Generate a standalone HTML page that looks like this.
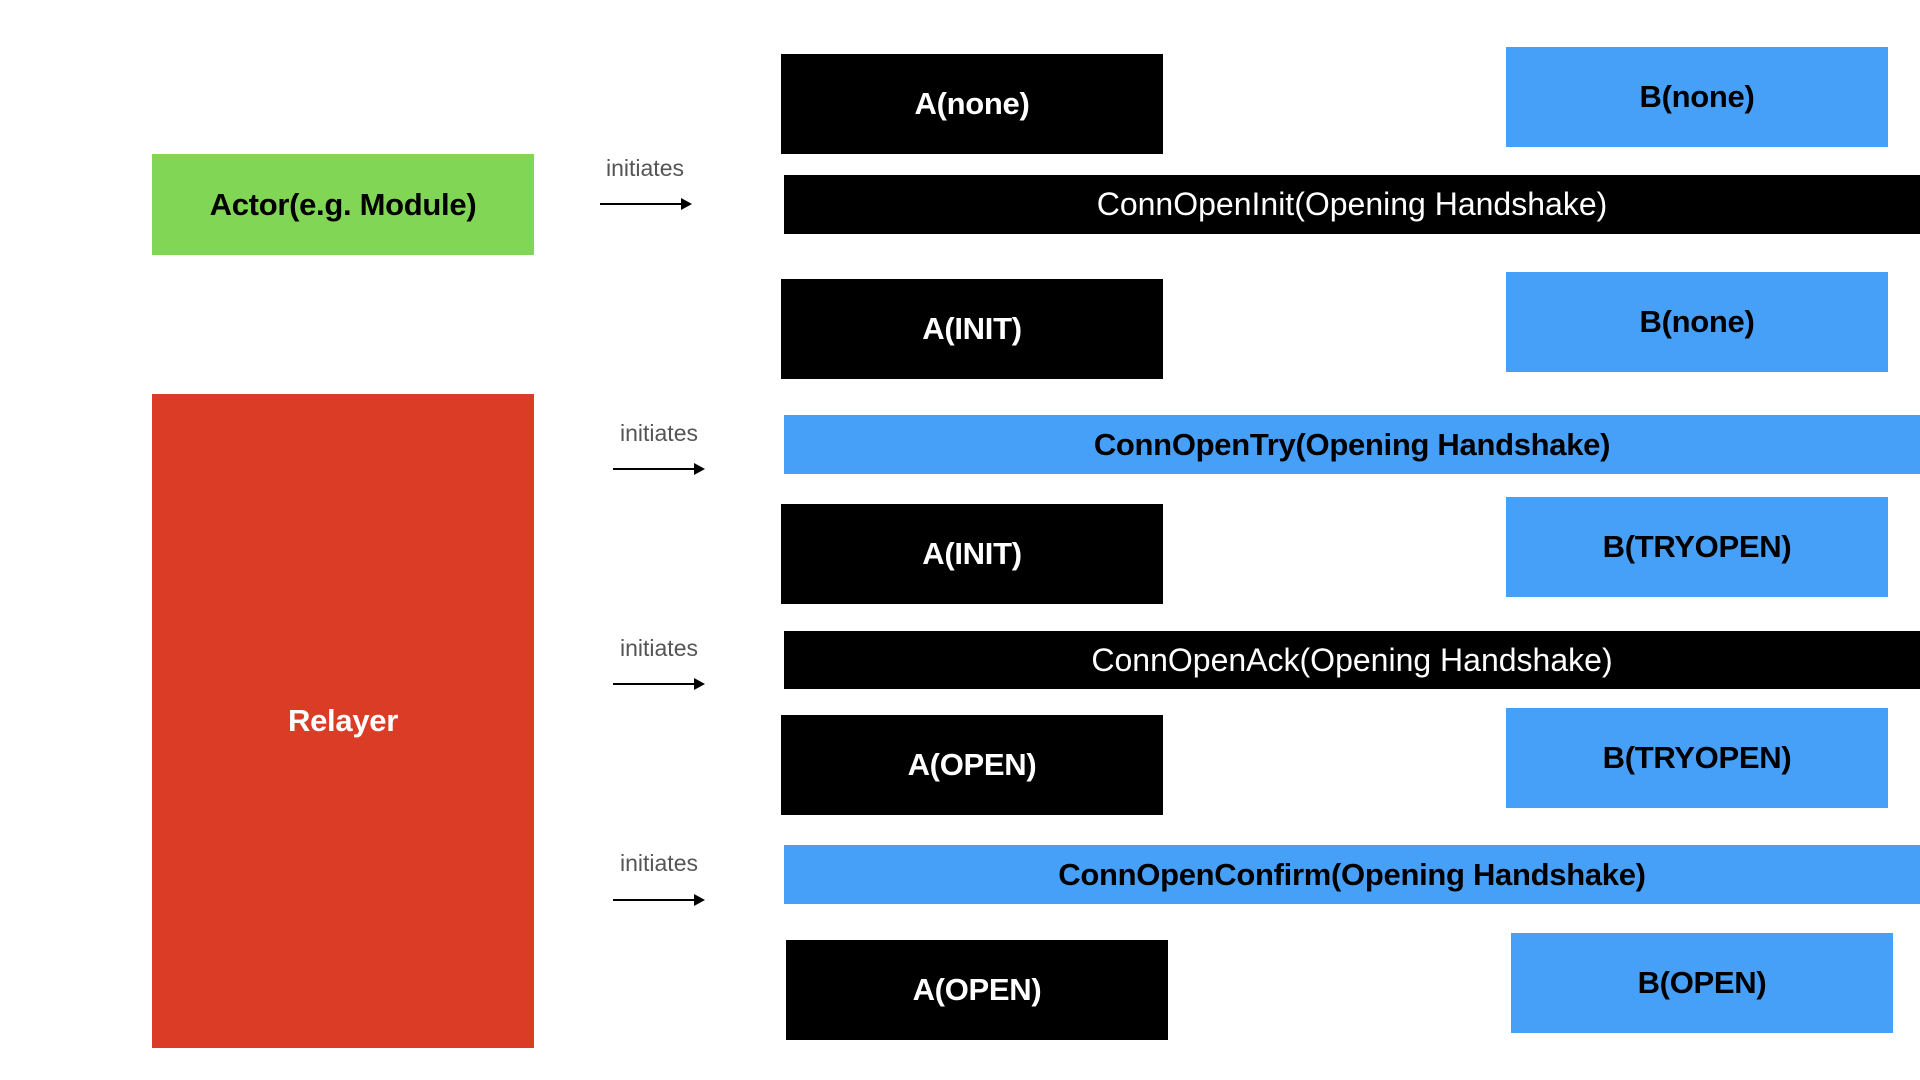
<!DOCTYPE html>
<html><head><meta charset="utf-8"><style>
body{margin:0;width:1920px;height:1080px;background:#fff;position:relative;overflow:hidden;font-family:"Liberation Sans",Arial,sans-serif}
.b{position:absolute;display:flex;align-items:center;justify-content:center;font-weight:bold;font-size:31px;letter-spacing:-0.3px}
.n{font-weight:normal!important;font-size:32px!important;letter-spacing:0!important}
.k{background:#000;color:#fff}
.u{background:#47a0f8;color:#000}
.lbl{position:absolute;font-size:23px;color:#555;width:120px;text-align:center}
.ar{position:absolute;height:2px;background:#000}
.ar:after{content:"";position:absolute;right:-2px;top:-5px;border-left:11px solid #000;border-top:6px solid transparent;border-bottom:6px solid transparent}
</style></head><body>
<div class="b" style="left:152px;top:154px;width:382px;height:101px;background:#82d655;color:#000">Actor(e.g. Module)</div>
<div class="b" style="left:152px;top:394px;width:382px;height:654px;background:#da3c26;color:#fff">Relayer</div>

<div class="b k" style="left:781px;top:54px;width:382px;height:100px">A(none)</div>
<div class="b u" style="left:1506px;top:47px;width:382px;height:100px">B(none)</div>
<div class="b k n" style="left:784px;top:175px;width:1136px;height:59px">ConnOpenInit(Opening Handshake)</div>

<div class="b k" style="left:781px;top:279px;width:382px;height:100px">A(INIT)</div>
<div class="b u" style="left:1506px;top:272px;width:382px;height:100px">B(none)</div>
<div class="b u" style="left:784px;top:415px;width:1136px;height:59px">ConnOpenTry(Opening Handshake)</div>

<div class="b k" style="left:781px;top:504px;width:382px;height:100px">A(INIT)</div>
<div class="b u" style="left:1506px;top:497px;width:382px;height:100px">B(TRYOPEN)</div>
<div class="b k n" style="left:784px;top:631px;width:1136px;height:58px">ConnOpenAck(Opening Handshake)</div>

<div class="b k" style="left:781px;top:715px;width:382px;height:100px">A(OPEN)</div>
<div class="b u" style="left:1506px;top:708px;width:382px;height:100px">B(TRYOPEN)</div>
<div class="b u" style="left:784px;top:845px;width:1136px;height:59px">ConnOpenConfirm(Opening Handshake)</div>

<div class="b k" style="left:786px;top:940px;width:382px;height:100px">A(OPEN)</div>
<div class="b u" style="left:1511px;top:933px;width:382px;height:100px">B(OPEN)</div>

<div class="lbl" style="left:585px;top:155px">initiates</div>
<div class="ar" style="left:600px;top:203px;width:90px"></div>
<div class="lbl" style="left:599px;top:420px">initiates</div>
<div class="ar" style="left:613px;top:468px;width:90px"></div>
<div class="lbl" style="left:599px;top:635px">initiates</div>
<div class="ar" style="left:613px;top:683px;width:90px"></div>
<div class="lbl" style="left:599px;top:850px">initiates</div>
<div class="ar" style="left:613px;top:899px;width:90px"></div>
</body></html>
